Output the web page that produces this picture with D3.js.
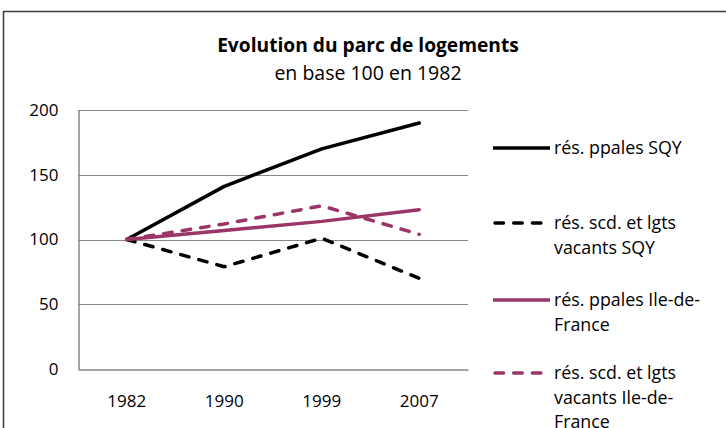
<!DOCTYPE html>
<meta charset="utf-8">
<style>
body { margin: 0; background: #fff; }
text { font-family: "Open Sans", "Noto Sans", sans-serif; fill: #000; }
.axis path, .axis line { stroke: #868686; }
.grid line { stroke: #868686; stroke-width: 1px; }
</style>
<svg width="726" height="428"></svg>
<script src="https://d3js.org/d3.v7.min.js"></script>
<script>
var years = ["1982", "1990", "1999", "2007"];
var ppalesSQY = [100, 141, 170, 190];
var scdSQY = [100, 79, 101, 70];
var ppalesIDF = [100, 107, 114, 123];
var scdIDF = [100, 112, 126, 104];
var yTicks = [0, 50, 100, 150, 200];

var series = [
  {lines: ["rés. ppales SQY"], values: ppalesSQY, color: "#000", dash: null},
  {lines: ["rés. scd. et lgts", "vacants SQY"], values: scdSQY, color: "#000", dash: "8.5,10.2"},
  {lines: ["rés. ppales Ile-de-", "France"], values: ppalesIDF, color: "#9b3467", dash: null},
  {lines: ["rés. scd. et lgts", "vacants Ile-de-", "France"], values: scdIDF, color: "#9b3467", dash: "8.5,10.2"}
];

var svg = d3.select("svg");
var mLeft = 78, mRight = 468, mTop = 110, mBottom = 369;

// chart frame
svg.append("rect")
    .attr("x", 3.5).attr("y", 11.5)
    .attr("width", 740).attr("height", 440)
    .attr("fill", "none").attr("stroke", "#3a3a3a").attr("stroke-width", 1.5);

svg.append("text").attr("x", 368).attr("y", 52)
    .attr("text-anchor", "middle").style("font-weight", "bold").style("font-size", "19.2px")
    .text("Evolution du parc de logements");
svg.append("text").attr("x", 368).attr("y", 80)
    .attr("text-anchor", "middle").style("font-size", "19.5px")
    .text("en base 100 en 1982");

var x = d3.scaleBand().domain(years).range([mLeft, mRight]);
var y = d3.scaleLinear().domain([0, 200]).range([mBottom, mTop]);

svg.append("g").attr("class", "grid")
  .selectAll("line").data(yTicks.slice(1)).enter().append("line")
    .attr("x1", mLeft).attr("x2", mRight)
    .attr("y1", function(d) { return Math.round(y(d)) + 0.5; })
    .attr("y2", function(d) { return Math.round(y(d)) + 0.5; });

svg.append("g").attr("class", "axis")
    .attr("transform", "translate(" + (mLeft + 0.5) + ",0)")
    .call(d3.axisLeft(y).tickValues(yTicks).tickSize(0).tickPadding(20))
    .call(function(g) { g.select(".domain").attr("stroke-width", 1.5); })
    .selectAll("text").style("font-size", "17px").attr("font-family", null);

svg.append("g").attr("class", "axis")
    .attr("transform", "translate(0," + (mBottom + 0.5) + ")")
    .call(d3.axisBottom(x).tickSize(0).tickPadding(25))
    .call(function(g) { g.select(".domain").attr("stroke-width", 1.5); })
    .selectAll("text").style("font-size", "17px").attr("font-family", null);

var line = d3.line()
    .x(function(d, i) { return x(years[i]) + x.bandwidth() / 2; })
    .y(function(d) { return y(d); });

svg.append("g").selectAll("path").data(series).enter().append("path")
    .attr("d", function(d) { return line(d.values); })
    .attr("fill", "none")
    .attr("stroke", function(d) { return d.color; })
    .attr("stroke-width", 3.5)
    .attr("stroke-linecap", "round")
    .attr("stroke-linejoin", "round")
    .attr("stroke-dasharray", function(d) { return d.dash; });

// legend
var legendY = [148, 223, 300, 373];
var lg = svg.append("g").selectAll("g").data(series).enter().append("g")
    .attr("transform", function(d, i) { return "translate(0," + legendY[i] + ")"; });
lg.append("line")
    .attr("x1", function(d) { return d.dash ? 495 : 493; }).attr("x2", 550)
    .attr("stroke", function(d) { return d.color; })
    .attr("stroke-width", 3.5)
    .attr("stroke-linecap", function(d) { return d.dash ? "round" : "butt"; })
    .attr("stroke-dasharray", function(d) { return d.dash; });
lg.append("text")
    .attr("x", 554).attr("y", 6)
    .style("font-size", "17.8px")
    .selectAll("tspan").data(function(d) { return d.lines; }).enter().append("tspan")
    .attr("x", 554)
    .attr("dy", function(d, i) { return i ? 24.5 : 0; })
    .text(function(d) { return d; });
</script>
